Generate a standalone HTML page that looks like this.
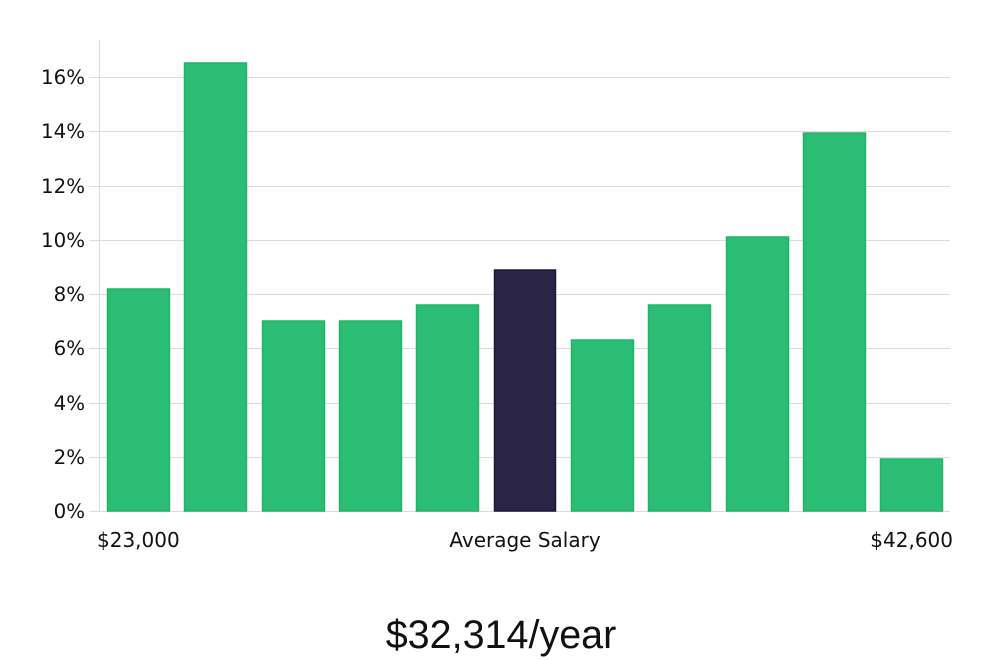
<!DOCTYPE html>
<html><head><style>body{margin:0;background:#fff}svg{display:block}</style></head><body>
<svg width="1000" height="660" xmlns="http://www.w3.org/2000/svg" font-family="DejaVu Sans, sans-serif">
<g stroke="#dcdcdc" stroke-width="1">
<line x1="89" y1="511.5" x2="950" y2="511.5"/>
<line x1="89" y1="457.5" x2="950" y2="457.5"/>
<line x1="89" y1="403.5" x2="950" y2="403.5"/>
<line x1="89" y1="348.5" x2="950" y2="348.5"/>
<line x1="89" y1="294.5" x2="950" y2="294.5"/>
<line x1="89" y1="240.5" x2="950" y2="240.5"/>
<line x1="89" y1="186.5" x2="950" y2="186.5"/>
<line x1="89" y1="131.5" x2="950" y2="131.5"/>
<line x1="89" y1="77.5" x2="950" y2="77.5"/>
<line x1="99.5" y1="40" x2="99.5" y2="511"/>
</g>
<g font-size="19.8" fill="#111" text-anchor="end">
<text x="85" y="518">0%</text><text x="85" y="464">2%</text><text x="85" y="410">4%</text>
<text x="85" y="355">6%</text><text x="85" y="301">8%</text><text x="85" y="247">10%</text>
<text x="85" y="193">12%</text><text x="85" y="138">14%</text><text x="85" y="84">16%</text>
</g>
<g fill="#2bbd74" stroke="#22b36a" stroke-width="1.5">
<rect x="107.5" y="289" width="62" height="222"/>
<rect x="184.5" y="63" width="62" height="448"/>
<rect x="262.5" y="321" width="62" height="190"/>
<rect x="339.5" y="321" width="62" height="190"/>
<rect x="416.5" y="305" width="62" height="206"/>
<rect x="571.5" y="340" width="62" height="171"/>
<rect x="648.5" y="305" width="62" height="206"/>
<rect x="726.5" y="237" width="62" height="274"/>
<rect x="803.5" y="133" width="62" height="378"/>
<rect x="880.5" y="459" width="62" height="52"/>
</g>
<rect x="494.5" y="270" width="61" height="241" fill="#2a2547" stroke="#1d1838" stroke-width="1.5"/>
<g font-size="20" fill="#111">
<text x="97" y="547">$23,000</text>
<text x="525" y="547" text-anchor="middle">Average Salary</text>
<text x="953" y="547" text-anchor="end">$42,600</text>
</g>
<text x="501" y="648" font-size="39.5" text-anchor="middle" fill="#111" font-family="Liberation Sans, sans-serif">$32,314/year</text>
</svg>
</body></html>
